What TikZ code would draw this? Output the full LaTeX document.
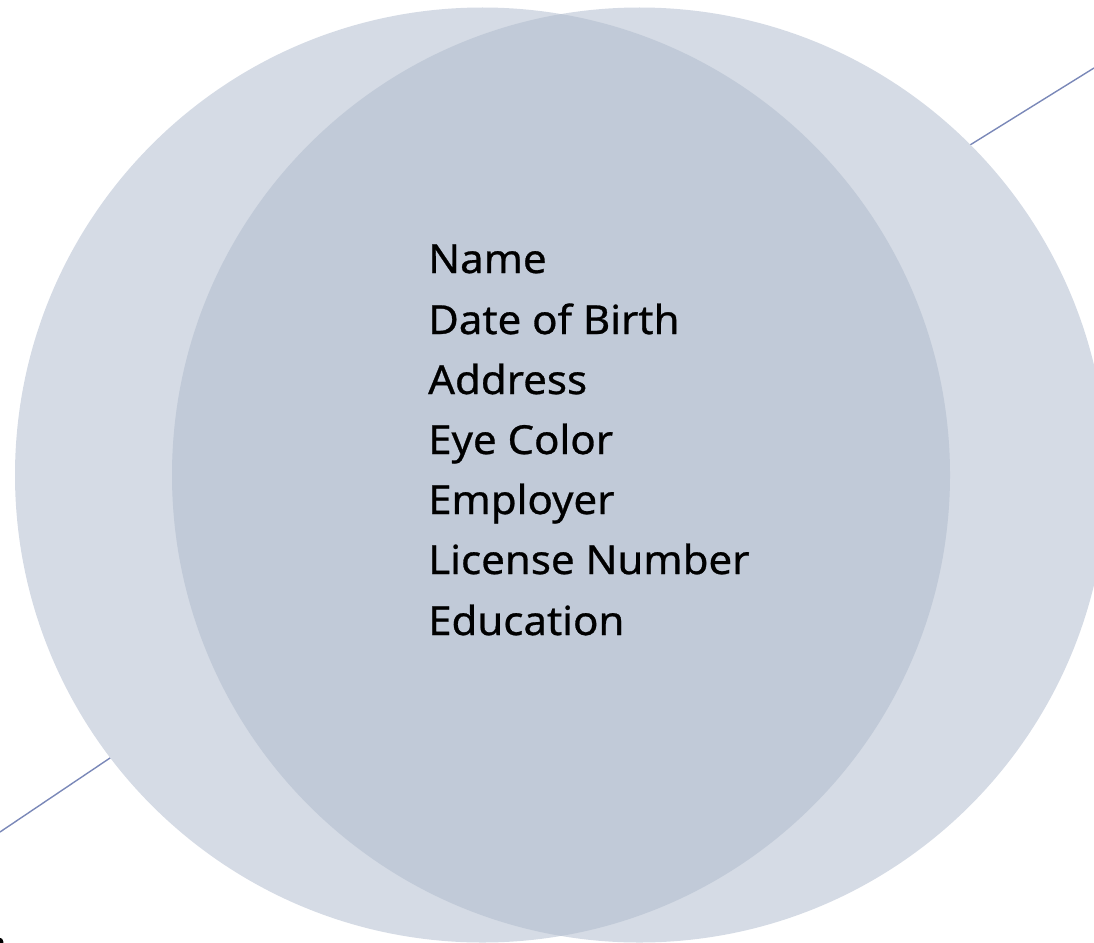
\documentclass[tikz,border=0pt]{standalone}
\usepackage{fontspec}
\setmainfont{Noto Sans}
\newfontfamily\itemfont[FakeStretch=1.05,FakeBold=0.7]{Noto Sans}
\definecolor{outerfill}{HTML}{D5DBE5}
\definecolor{innerfill}{HTML}{C1CAD8}
\definecolor{linecol}{HTML}{7A88B8}
\begin{document}
\begin{tikzpicture}[x=1pt,y=-1pt,
  itemtext/.style={anchor=base west,inner sep=0pt,font=\itemfont\fontsize{40}{42}\selectfont,text=black},
  diag/.style={draw=linecol,line width=1.4pt}]
\useasboundingbox (0,0) rectangle (1094,942);
% diagonal line behind the circles
\coordinate (la) at (0,832);
\coordinate (lb) at (110,758);
\coordinate (rb) at (970,145);
\coordinate (ra) at (1094,68);
\draw[diag] (la) -- (lb) -- (rb) -- (ra);
% circles
\coordinate (cl) at (482.5,475);
\coordinate (cr) at (639.5,475);
\fill[outerfill] (cl) circle (467.5);
\fill[outerfill] (cr) circle (467.5);
\begin{scope}
  \clip (cl) circle (467.5);
  \fill[innerfill] (cr) circle (467.5);
\end{scope}
% small dark mark at corner
\fill[black] (-1,942) circle (4.5);
% text
\node[itemtext] (t1) at (428,273) {Name};
\node[itemtext] (t2) at (428,334) {Date of Birth};
\node[itemtext] (t3) at (428,394) {Address};
\node[itemtext] (t4) at (428,454) {Eye Color};
\node[itemtext] (t5) at (428,514) {Employer};
\node[itemtext] (t6) at (428,574) {License Number};
\node[itemtext] (t7) at (428,635) {Education};
\end{tikzpicture}
\end{document}
